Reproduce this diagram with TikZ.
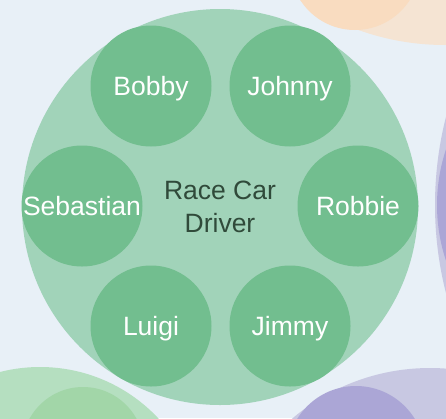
\documentclass[tikz,border=0pt]{standalone}
\usepackage{fontspec}
\setmainfont{Liberation Sans}
\usepackage{xcolor}
\usetikzlibrary{positioning}

\definecolor{bgblue}{HTML}{E8F0F7}
\definecolor{drivergreen}{HTML}{A1D3B9}
\definecolor{namegreen}{HTML}{72BE8F}
\definecolor{drivertext}{HTML}{304A3A}
\definecolor{peachout}{HTML}{F5E4D3}
\definecolor{peachin}{HTML}{F9DCC0}
\definecolor{lilacout}{HTML}{C8C8E2}
\definecolor{lilacin}{HTML}{ABA6D6}
\definecolor{mintout}{HTML}{B5DFC0}
\definecolor{mintin}{HTML}{A2D6A8}

\begin{document}
\begin{tikzpicture}[
    x=1pt, y=-1pt,
    every node/.style={circle, inner sep=0pt},
    group/.style={fill=drivergreen, minimum size=396pt, text=drivertext,
                  align=center, font=\fontsize{26.5}{33}\selectfont},
    member/.style={fill=namegreen, minimum size=121pt, text=white,
                   text depth=0pt, font=\fontsize{26.5}{30}\selectfont}
]
  \useasboundingbox (0,0) rectangle (446,418);
  \fill[bgblue] (0,0) rectangle (446,418);
  \clip (0,0) rectangle (446,418);

  % neighbouring groups
  \fill[peachout] (445,-211) circle (256);
  \fill[peachin]  (355,-35)  circle (65);
  \fill[lilacout] (792,205)  circle (357);
  \fill[lilacin]  (613,205)  circle (176);
  \fill[mintout]  (40,529)   circle (162);
  \fill[mintin]   (83,448)   circle (61);
  \fill[lilacout] (430,581)  circle (213);
  \fill[lilacin]  (356,455)  circle (69);

  % nodes
  \node[group]  (driver)    at (220,207) {Race Car\\Driver};
  \node[member] (bobby)     at (151,86)  {Bobby};
  \node[member] (johnny)    at (290,86)  {Johnny};
  \node[member] (sebastian) at (82,206)  {Sebastian};
  \node[member] (robbie)    at (358,206) {Robbie};
  \node[member] (luigi)     at (151,326) {Luigi};
  \node[member] (jimmy)     at (290,326) {Jimmy};
\end{tikzpicture}
\end{document}
